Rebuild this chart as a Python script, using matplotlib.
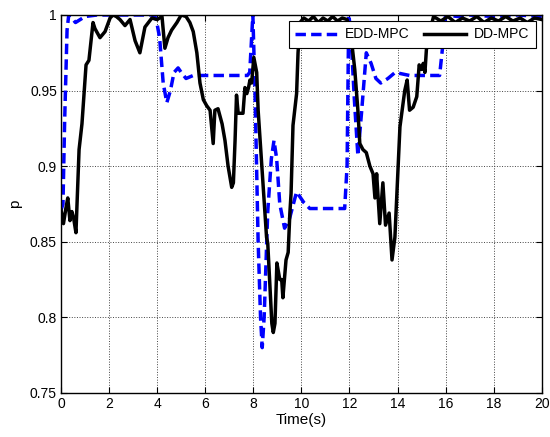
import matplotlib
matplotlib.use("Agg")
import matplotlib.pyplot as plt

plt.rcParams['font.family'] = ['Liberation Sans', 'DejaVu Sans']

# EDD-MPC (blue dashed)
t_edd = [0.0, 0.08, 0.15, 0.25, 0.32, 0.45, 0.6, 0.8, 1.0, 1.5, 2.0, 3.0, 3.8, 3.95,
         4.1, 4.25, 4.4, 4.55, 4.7, 4.87, 5.0, 5.2, 5.5, 6.0, 7.0, 7.75, 7.85, 7.98,
         8.07, 8.2, 8.3, 8.37, 8.45, 8.6, 8.75, 8.86, 8.97, 9.1, 9.3, 9.5, 9.8, 10.1,
         10.35, 11.0, 11.8, 11.9, 11.97, 12.05, 12.2, 12.35, 12.5, 12.7, 12.9, 13.1,
         13.3, 13.6, 13.9, 14.5, 15.75, 15.85, 16.0, 16.5, 17.0, 18.0, 19.0, 20.0]
p_edd = [0.871, 0.875, 0.93, 0.99, 1.0, 0.998, 0.995, 0.997, 0.999, 1.0, 1.0, 1.0, 1.0, 0.998,
         0.985, 0.955, 0.942, 0.950, 0.962, 0.965, 0.962, 0.958, 0.960, 0.960, 0.960, 0.960, 0.962, 1.0,
         0.95, 0.85, 0.80, 0.780, 0.80, 0.87, 0.905, 0.917, 0.905, 0.875, 0.859, 0.865, 0.883, 0.876,
         0.872, 0.872, 0.872, 0.90, 1.0, 0.99, 0.945, 0.907, 0.935, 0.975, 0.968, 0.958,
         0.955, 0.958, 0.962, 0.960, 0.960, 0.975, 1.0, 0.999, 1.0, 0.999, 1.0, 0.999]

# DD-MPC (black solid)
t_dd = [0.0, 0.1, 0.2, 0.28, 0.37, 0.45, 0.52, 0.62, 0.75, 0.87, 1.04, 1.16, 1.25, 1.33,
        1.41, 1.62, 1.83, 2.04, 2.16, 2.3, 2.45, 2.66, 2.87, 3.08, 3.28, 3.49, 3.78, 4.0,
        4.2, 4.32, 4.45, 4.6, 4.82, 5.0, 5.2, 5.36, 5.5, 5.65, 5.78, 5.92, 6.06, 6.2,
        6.33, 6.4, 6.53, 6.7, 6.82, 6.95, 7.1, 7.17, 7.24, 7.3, 7.37, 7.57, 7.65, 7.73,
        7.8, 7.86, 7.93, 8.02, 8.14, 8.2, 8.4, 8.55, 8.6, 8.77, 8.83, 8.9, 8.98, 9.1,
        9.18, 9.23, 9.36, 9.45, 9.52, 9.57, 9.65, 9.8, 9.86, 9.94, 10.1, 10.3, 10.5,
        10.7, 10.9, 11.1, 11.3, 11.5, 11.7, 11.9, 12.1, 12.22, 12.35, 12.43, 12.56,
        12.7, 12.85, 12.98, 13.06, 13.13, 13.26, 13.39, 13.5, 13.65, 13.77, 13.89, 14.1,
        14.3, 14.4, 14.5, 14.65, 14.8, 14.9, 15.0, 15.07, 15.14, 15.2, 15.35, 15.5, 15.8,
        16.1, 16.4, 16.7, 17.0, 17.3, 17.6, 17.9, 18.2, 18.5, 18.8, 19.1, 19.4, 19.7, 20.0]
p_dd = [0.871, 0.862, 0.872, 0.879, 0.864, 0.870, 0.866, 0.856, 0.911, 0.928, 0.967, 0.970, 0.983, 0.995,
        0.991, 0.985, 0.989, 0.998, 1.0, 0.999, 0.997, 0.993, 0.997, 0.983, 0.975, 0.992, 0.998, 0.997,
        0.999, 0.978, 0.985, 0.990, 0.995, 1.0, 0.999, 0.995, 0.989, 0.975, 0.955, 0.944, 0.940, 0.937,
        0.915, 0.937, 0.938, 0.928, 0.917, 0.900, 0.886, 0.889, 0.917, 0.947, 0.935, 0.935, 0.952, 0.948,
        0.952, 0.957, 0.955, 0.972, 0.962, 0.937, 0.889, 0.853, 0.849, 0.796, 0.790, 0.796, 0.836, 0.825,
        0.825, 0.813, 0.838, 0.843, 0.869, 0.882, 0.927, 0.948, 0.975, 0.995, 0.998, 0.996, 0.999,
        0.995, 0.998, 0.996, 0.999, 0.996, 0.998, 0.997, 0.981, 0.964, 0.937, 0.915, 0.911,
        0.909, 0.900, 0.895, 0.879, 0.895, 0.862, 0.889, 0.861, 0.869, 0.838, 0.853, 0.926,
        0.950, 0.957, 0.937, 0.939, 0.946, 0.967, 0.964, 0.968, 0.962, 0.977, 0.990, 0.999, 0.996,
        0.999, 0.995, 0.998, 0.996, 0.999, 0.995, 0.998, 0.996, 0.999, 0.996, 0.998, 0.995, 0.998, 0.997]

x_ticks = [0, 2, 4, 6, 8, 10, 12, 14, 16, 18, 20]
y_ticks = [0.75, 0.8, 0.85, 0.9, 0.95, 1.0]
y_ticklabels = ['0.75', '0.8', '0.85', '0.9', '0.95', '1']

fig = plt.figure(figsize=(5.5, 4.37), dpi=100)
ax = fig.add_axes([0.111, 0.1007, 0.874, 0.865])

ax.plot(t_edd, p_edd, color='#0000ff', linestyle='--', linewidth=2.5, dashes=(3, 1.5), label='EDD-MPC')
ax.plot(t_dd, p_dd, color='black', linestyle='-', linewidth=2.5, label='DD-MPC')

ax.set_xlim(0, 20)
ax.set_ylim(0.75, 1.0)
ax.set_xticks(x_ticks)
ax.set_yticks(y_ticks)
ax.set_yticklabels(y_ticklabels)
ax.tick_params(direction='in', top=True, right=True, labelsize=10, length=4, width=0.8, pad=3)
ax.grid(True, color='#444444', linestyle=':', linewidth=0.7)
for s in ax.spines.values():
    s.set_linewidth(1.0)
    s.set_color('black')

ax.set_xlabel('Time(s)', fontsize=11, labelpad=1)
ax.set_ylabel('p', fontsize=11, labelpad=6)

leg = ax.legend(loc='upper right', ncol=2, fontsize=10, frameon=True, fancybox=False,
                edgecolor='black', framealpha=1, handlelength=3.0, columnspacing=1.0,
                handletextpad=0.6, borderaxespad=0.45, borderpad=0.45)
leg.get_frame().set_linewidth(0.8)

fig.savefig('out.png', dpi=100)
